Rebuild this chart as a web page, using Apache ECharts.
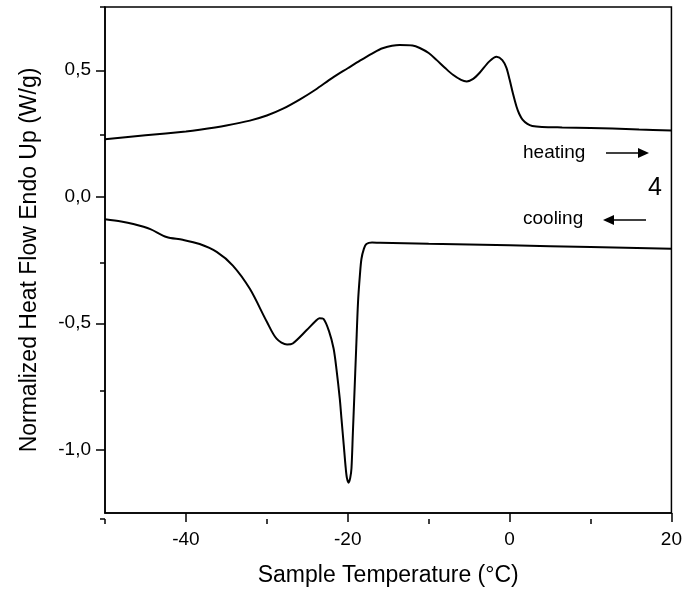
<!DOCTYPE html>
<html>
<head>
<meta charset="utf-8">
<script src="https://cdn.jsdelivr.net/npm/echarts@6/dist/echarts.min.js"></script>
<style>html,body{margin:0;padding:0;background:#fff}#c{width:685px;height:592px}</style>
</head>
<body>
<div id="c"></div>
<script>
// Heating curve (upper), [temperature °C, heat flow W/g]
const heatingT = [-50, -45, -40, -38.3, -35, -32.1, -30, -28, -25.9, -24, -21.9, -20, -18.5, -17, -15.7, -13.6, -12, -11.1, -10, -9, -8, -7, -6, -5.3, -4.5, -3.7, -2.5, -1.6, -0.9, -0.4, 0.0, 0.4, 0.85, 1.2, 1.6, 2.2, 2.8, 4, 6.5, 10, 12.7, 16, 20];
const heatingQ = [0.227, 0.243, 0.258, 0.265, 0.282, 0.301, 0.321, 0.348, 0.385, 0.423, 0.470, 0.508, 0.538, 0.566, 0.587, 0.600, 0.598, 0.588, 0.568, 0.540, 0.510, 0.482, 0.462, 0.456, 0.466, 0.490, 0.535, 0.553, 0.540, 0.510, 0.463, 0.410, 0.357, 0.327, 0.305, 0.288, 0.280, 0.276, 0.274, 0.272, 0.270, 0.266, 0.262];
// Cooling curve (lower)
const coolingT = [-50, -48, -46.5, -44.4, -42.4, -40.4, -38.3, -36.2, -34.2, -32.1, -30, -28.8, -27.5, -26.8, -25.1, -24, -23.5, -23, -22.3, -21.75, -21.4, -20.99, -20.78, -20.5, -20.25, -20.1, -19.9, -19.7, -19.54, -19.37, -19.2, -18.96, -18.73, -18.5, -18.31, -18.0, -17.7, -17.0, -16, -10, 0, 10, 20];
const coolingQ = [-0.089, -0.098, -0.108, -0.128, -0.159, -0.170, -0.187, -0.218, -0.272, -0.364, -0.494, -0.561, -0.584, -0.580, -0.528, -0.492, -0.480, -0.483, -0.533, -0.600, -0.680, -0.797, -0.876, -0.980, -1.073, -1.112, -1.130, -1.112, -1.073, -0.935, -0.797, -0.600, -0.416, -0.310, -0.246, -0.205, -0.187, -0.181, -0.182, -0.186, -0.192, -0.199, -0.206];

const xMajor = [-40, -20, 0, 20];
const xMinor = [-50, -30, -10, 10];
const yMajor = [-1.0, -0.5, 0.0, 0.5];
const yMinor = [-1.25, -0.75, -0.25, 0.25, 0.75];

const xTitle = 'Sample Temperature (°C)';
const yTitle = 'Normalized Heat Flow Endo Up (W/g)';

const FONT = 'Liberation Sans, Arial, sans-serif';
const heating = heatingT.map((t, i) => [t, heatingQ[i]]);
const cooling = coolingT.map((t, i) => [t, coolingQ[i]]);

const gridRect = {left: 105, right: 13, top: 7, bottom: 73};
const chart = echarts.init(document.getElementById('c'), null, {renderer: 'canvas'});
const fmtY = v => v.toFixed(1).replace('.', ',');

chart.setOption({
  animation: false,
  backgroundColor: '#fff',
  grid: [
    Object.assign({show: true, borderColor: '#000', borderWidth: 1.5, backgroundColor: 'transparent'}, gridRect),
    Object.assign({show: false}, gridRect)
  ],
  xAxis: [
    {
      type: 'value', gridIndex: 0, min: -50, max: 20, interval: 10,
      name: xTitle, nameLocation: 'middle', nameGap: 51,
      nameTextStyle: {fontFamily: FONT, fontSize: 23, color: '#000'},
      axisLine: {show: true, onZero: false, lineStyle: {color: '#000', width: 1.5}},
      axisTick: {show: true, length: 9, customValues: xMajor, lineStyle: {color: '#000', width: 1.5}},
      axisLabel: {show: true, customValues: xMajor, margin: 17, fontFamily: FONT, fontSize: 19, color: '#000'},
      splitLine: {show: false}
    },
    {
      type: 'value', gridIndex: 1, min: -50, max: 20, interval: 10,
      axisLine: {show: false, onZero: false},
      axisTick: {show: true, length: 5, customValues: xMinor, lineStyle: {color: '#000', width: 1.5}},
      axisLabel: {show: false},
      splitLine: {show: false}
    }
  ],
  yAxis: [
    {
      type: 'value', gridIndex: 0, min: -1.25, max: 0.75, interval: 0.25,
      name: yTitle, nameLocation: 'middle', nameGap: 64, nameRotate: 90,
      nameTextStyle: {fontFamily: FONT, fontSize: 23, color: '#000'},
      axisLine: {show: true, onZero: false, lineStyle: {color: '#000', width: 1.5}},
      axisTick: {show: true, length: 9, customValues: yMajor, lineStyle: {color: '#000', width: 1.5}},
      axisLabel: {show: true, customValues: yMajor, margin: 14, fontFamily: FONT, fontSize: 19, color: '#000', formatter: fmtY},
      splitLine: {show: false}
    },
    {
      type: 'value', gridIndex: 1, min: -1.25, max: 0.75, interval: 0.25,
      axisLine: {show: false, onZero: false},
      axisTick: {show: true, length: 5, customValues: yMinor, lineStyle: {color: '#000', width: 1.5}},
      axisLabel: {show: false},
      splitLine: {show: false}
    }
  ],
  series: [
    {
      name: 'heating', type: 'line', xAxisIndex: 0, yAxisIndex: 0,
      data: heating, showSymbol: false, smooth: 0.3,
      lineStyle: {color: '#000', width: 2}
    },
    {
      name: 'cooling', type: 'line', xAxisIndex: 0, yAxisIndex: 0,
      data: cooling, showSymbol: false, smooth: 0.3,
      lineStyle: {color: '#000', width: 2}
    }
  ],
  graphic: [
    {type: 'text', left: 523, top: 143, style: {text: 'heating', fontFamily: FONT, fontSize: 19, fill: '#000'}},
    {type: 'line', shape: {x1: 606, y1: 153, x2: 640, y2: 153}, style: {stroke: '#000', lineWidth: 1.5}},
    {type: 'polygon', shape: {points: [[638, 148], [649, 153], [638, 158]]}, style: {fill: '#000'}},
    {type: 'text', left: 648, top: 176, style: {text: '4', fontFamily: FONT, fontSize: 25, fill: '#000'}},
    {type: 'text', left: 523, top: 209, style: {text: 'cooling', fontFamily: FONT, fontSize: 19, fill: '#000'}},
    {type: 'line', shape: {x1: 612, y1: 220, x2: 646, y2: 220}, style: {stroke: '#000', lineWidth: 1.5}},
    {type: 'polygon', shape: {points: [[614, 215], [603, 220], [614, 225]]}, style: {fill: '#000'}}
  ]
});
</script>
</body>
</html>
